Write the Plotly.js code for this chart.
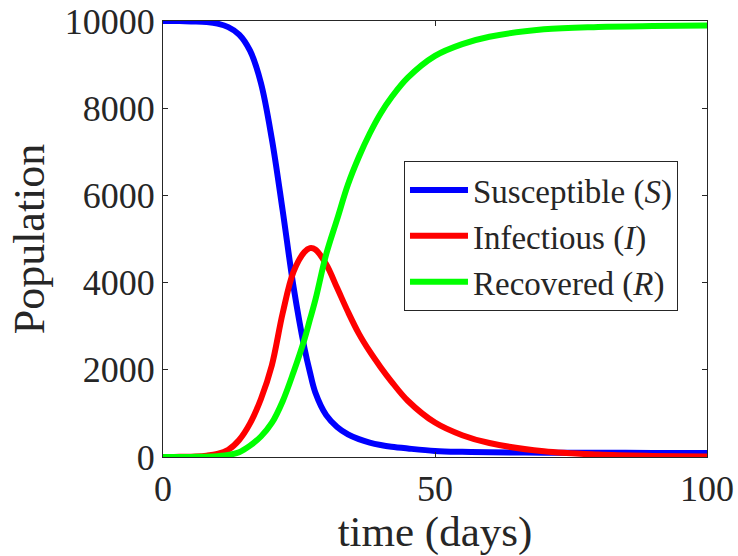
<!DOCTYPE html>
<html>
<head>
<meta charset="utf-8">
<script src="https://cdn.plot.ly/plotly-3.0.1.min.js"></script>
<style>html,body{margin:0;padding:0;background:#fff;}#chart{width:738px;height:556px;}</style>
</head>
<body>
<div id="chart"></div>
<script>
const days = [0, 2, 4, 6, 8, 10, 12, 14, 16, 18, 20, 22, 24, 26, 27, 28, 30, 32, 34, 36, 38, 40, 42, 45, 50, 55, 60, 70, 80, 90, 100];
const susceptible = [9999, 9998, 9996, 9990, 9975, 9940, 9860, 9690, 9320, 8580, 7300, 5650, 3900, 2500, 1950, 1480, 960, 690, 520, 410, 330, 275, 235, 195, 140, 118, 107, 99, 96, 94, 93];
const infectious = [1, 2, 5, 12, 30, 70, 165, 390, 770, 1330, 2100, 3300, 4250, 4700, 4790, 4760, 4420, 3880, 3330, 2830, 2420, 2060, 1730, 1290, 790, 500, 320, 130, 55, 25, 12];
const recovered = [0, 0, 1, 3, 8, 20, 45, 110, 260, 470, 780, 1280, 1950, 2700, 3150, 3600, 4650, 5450, 6250, 6880, 7420, 7880, 8250, 8700, 9200, 9470, 9640, 9810, 9865, 9885, 9895];
const seriesNames = ['Susceptible (<i>S</i>)', 'Infectious (<i>I</i>)', 'Recovered (<i>R</i>)'];
const xTicks = [0, 50, 100];
const yTicks = [0, 2000, 4000, 6000, 8000, 10000];

const FONT = 'Liberation Serif, Times New Roman, serif';
const INK = '#262626';

const colors = ['#0000ff', '#ff0000', '#00ff00'];
const ys = [susceptible, infectious, recovered];
const data = ys.map((y, i) => ({
  x: days, y: y, type: 'scatter', mode: 'lines', name: seriesNames[i],
  line: {color: colors[i], width: 6, shape: 'spline', smoothing: 1}
}));

const axisCommon = {
  showline: true, mirror: 'ticks', linecolor: INK, linewidth: 1,
  ticks: 'inside', ticklen: 5, tickwidth: 1, tickcolor: INK,
  showgrid: false, zeroline: false,
  tickfont: {family: FONT, size: 36, color: INK}
};

const layout = {
  width: 738, height: 556,
  margin: {l: 163, r: 31, t: 21, b: 99},
  paper_bgcolor: '#fff', plot_bgcolor: '#fff',
  showlegend: true,
  legend: {
    x: 0.443, y: 0.679, xanchor: 'left', yanchor: 'top',
    bgcolor: '#fff', bordercolor: INK, borderwidth: 1,
    font: {family: FONT, size: 33, color: INK},
    itemwidth: 58, tracegroupgap: 0
  },
  xaxis: Object.assign({}, axisCommon, {
    range: [0, 100], tickvals: xTicks, ticktext: xTicks.map(String),
    title: {text: 'time (days)', font: {family: FONT, size: 43, color: INK}, standoff: 2}
  }),
  yaxis: Object.assign({}, axisCommon, {
    range: [0, 10000], tickvals: yTicks, ticktext: yTicks.map(String),
    title: {text: 'Population', font: {family: FONT, size: 44, color: INK}, standoff: 6}
  })
};

Plotly.newPlot('chart', data, layout, {displayModeBar: false, staticPlot: true});
</script>
</body>
</html>
